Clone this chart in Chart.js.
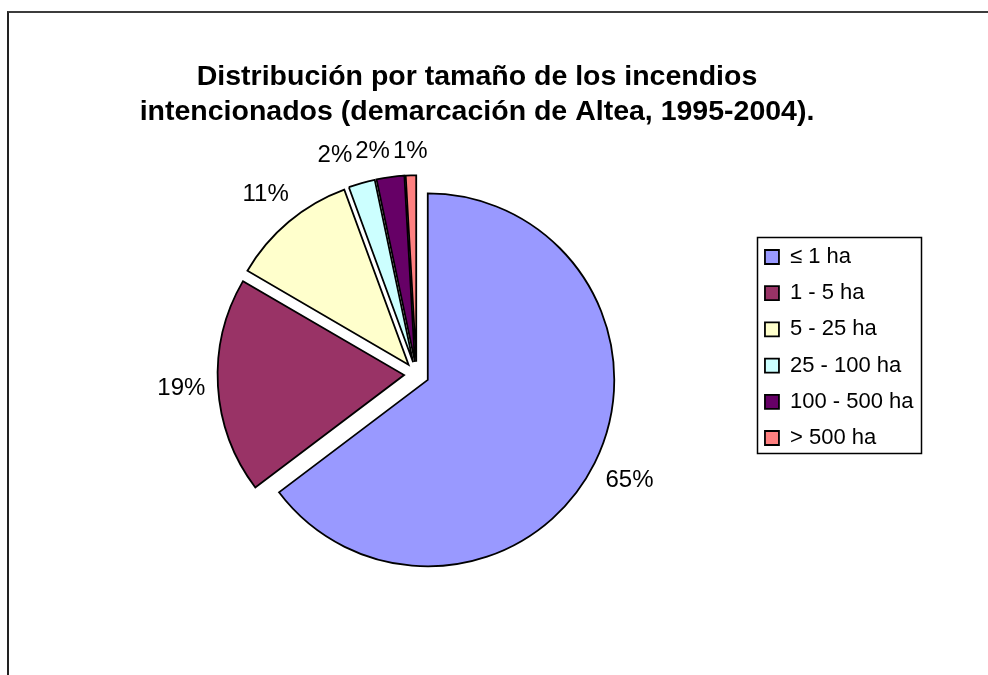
<!DOCTYPE html>
<html>
<head>
<meta charset="utf-8">
<title>Distribución por tamaño de los incendios intencionados</title>
<script src="https://cdn.jsdelivr.net/npm/chart.js@4.4.1/dist/chart.umd.min.js"></script>
<style>
    html, body { margin: 0; padding: 0; background: #fff; }
    #wrap { position: relative; width: 988px; height: 675px; overflow: hidden; }
    #frame {
        position: absolute; left: 7px; top: 11px; width: 1200px; height: 900px;
        border-left: 2px solid #222; border-top: 2px solid #3c3c3c;
    }
    #chart { position: absolute; left: 0; top: 0; }
</style>
</head>
<body>
<div id="wrap">
    <div id="frame"></div>
    <canvas id="chart" width="988" height="675"></canvas>
</div>
<script>
const titleLines = ['Distribución por tamaño de los incendios', 'intencionados (demarcación de Altea, 1995-2004).'];
const categories = ['≤ 1 ha', '1 - 5 ha', '5 - 25 ha', '25 - 100 ha', '100 - 500 ha', '> 500 ha'];
const shares = [64.7, 18.7, 11.0, 2.3, 2.4, 0.9];
const sliceColors = ['#9999FF', '#993366', '#FFFFCC', '#CCFFFF', '#660066', '#FF8080'];

const FONT = "'Liberation Sans', Arial, Helvetica, sans-serif";
const EXPLODE = 12.5;

// title is centred over the whole sheet, not over the pie + legend area
const sheetTitle = {
    id: 'sheetTitle',
    afterDraw(chart, args, opts) {
        const ctx = chart.ctx;
        ctx.save();
        ctx.font = 'bold ' + opts.size + 'px ' + FONT;
        ctx.fillStyle = '#000';
        ctx.textAlign = 'center';
        ctx.textBaseline = 'middle';
        opts.text.forEach((line, i) => ctx.fillText(line, opts.x, opts.y + i * opts.lineHeight));
        ctx.restore();
    }
};

// every slice pulled out from the centre along its bisector
const explodedSlices = {
    id: 'explodedSlices',
    beforeDatasetDraw(chart, args, opts) {
        const ctx = chart.ctx;
        args.meta.data.forEach(arc => {
            const p = arc.getProps(['startAngle', 'endAngle'], true);
            const mid = (p.startAngle + p.endAngle) / 2;
            ctx.save();
            ctx.translate(Math.cos(mid) * opts.distance, Math.sin(mid) * opts.distance);
            arc.draw(ctx, chart.chartArea);
            ctx.restore();
        });
        return false;
    }
};

// box drawn round the built-in legend
const legendFrame = {
    id: 'legendFrame',
    afterDraw(chart) {
        const boxes = chart.legend.legendHitBoxes;
        if (!boxes || !boxes.length) return;
        const first = boxes[0], last = boxes[boxes.length - 1];
        const left = first.left - 8;
        const top = first.top - 9;
        const right = Math.max(...boxes.map(b => b.left + b.width)) + 7.5;
        const bottom = last.top + last.height + 4;
        const ctx = chart.ctx;
        ctx.save();
        ctx.strokeStyle = '#000';
        ctx.lineWidth = 1.5;
        ctx.strokeRect(Math.round(left) + 0.5, Math.round(top) + 0.5, Math.round(right - left), Math.round(bottom - top));
        ctx.restore();
    }
};

// percentage labels outside each slice
const percentLabels = {
    id: 'percentLabels',
    afterDatasetsDraw(chart) {
        const ctx = chart.ctx;
        const meta = chart.getDatasetMeta(0);
        const values = chart.data.datasets[0].data;
        const total = values.reduce((a, b) => a + b, 0);
        const gap = 12;
        const fontSize = 24;
        ctx.save();
        ctx.font = fontSize + 'px ' + FONT;
        const items = meta.data.map((arc, i) => {
            const p = arc.getProps(['x', 'y', 'startAngle', 'endAngle', 'outerRadius'], true);
            const mid = (p.startAngle + p.endAngle) / 2;
            const text = Math.round(values[i] / total * 100) + '%';
            const halfW = ctx.measureText(text).width / 2;
            const halfH = fontSize / 2;
            const cos = Math.cos(mid), sin = Math.sin(mid);
            const dist = p.outerRadius + EXPLODE + gap + halfW * Math.abs(cos) + halfH * Math.abs(sin);
            return { text, x: p.x + cos * dist, y: p.y + sin * dist, halfW, halfH };
        });
        // push crowded labels apart, working back from the last slice
        for (let i = items.length - 2; i >= 0; i--) {
            const a = items[i], b = items[i + 1];
            const vOverlap = Math.abs(a.y - b.y) < a.halfH + b.halfH;
            if (vOverlap && a.x + a.halfW > b.x - b.halfW - 3 && a.x < b.x) {
                a.x = b.x - b.halfW - 3 - a.halfW;
            }
        }
        ctx.fillStyle = '#000';
        ctx.textAlign = 'center';
        ctx.textBaseline = 'middle';
        items.forEach(it => ctx.fillText(it.text, it.x, it.y));
        ctx.restore();
    }
};

new Chart(document.getElementById('chart'), {
    type: 'pie',
    data: {
        labels: categories,
        datasets: [{
            data: shares,
            backgroundColor: sliceColors,
            borderColor: '#000',
            borderWidth: 1.8,
            borderJoinStyle: 'miter'
        }]
    },
    options: {
        responsive: false,
        animation: false,
        radius: 186.5,
        layout: {
            padding: { left: 82.4, right: 64.5, top: 231.8, bottom: 158.2 }
        },
        plugins: {
            tooltip: { enabled: false },
            title: { display: false },
            sheetTitle: { text: titleLines, x: 477, y: 77, lineHeight: 35, size: 28.5 },
            explodedSlices: { distance: EXPLODE },
            legend: {
                position: 'right',
                align: 'start',
                labels: {
                    color: '#000',
                    boxWidth: 14,
                    boxHeight: 14,
                    padding: 14.2,
                    font: { family: FONT, size: 22 }
                }
            }
        }
    },
    plugins: [sheetTitle, explodedSlices, percentLabels, legendFrame]
});
</script>
</body>
</html>
